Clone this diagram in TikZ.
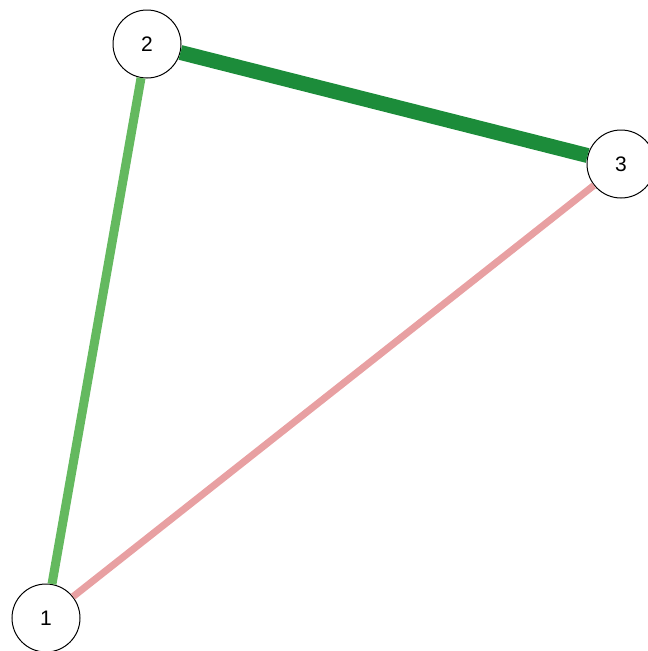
\documentclass[tikz,border=0pt]{standalone}
\usepackage{fontspec}
\setmainfont{Liberation Sans}
\begin{document}
\begin{tikzpicture}[x=1pt,y=-1pt,
  vert/.style={circle,draw=black,line width=1pt,fill=white,minimum size=68pt,inner sep=0pt,font=\fontsize{21}{25}\selectfont},
  edge/.style={line cap=butt}]
\definecolor{darkg}{RGB}{28,140,58}
\definecolor{lightg}{RGB}{100,185,95}
\definecolor{pinkish}{RGB}{232,160,162}
\useasboundingbox (0,0) rectangle (648,651);
\node[vert] (n1) at (46,618) {1};
\node[vert] (n2) at (147,44) {2};
\node[vert] (n3) at (621,164) {3};
\draw[edge,draw=darkg,line width=15pt] (n2) -- (n3);
\draw[edge,draw=lightg,line width=9pt] (n1) -- (n2);
\draw[edge,draw=pinkish,line width=7pt] (n1) -- (n3);
\end{tikzpicture}
\end{document}
